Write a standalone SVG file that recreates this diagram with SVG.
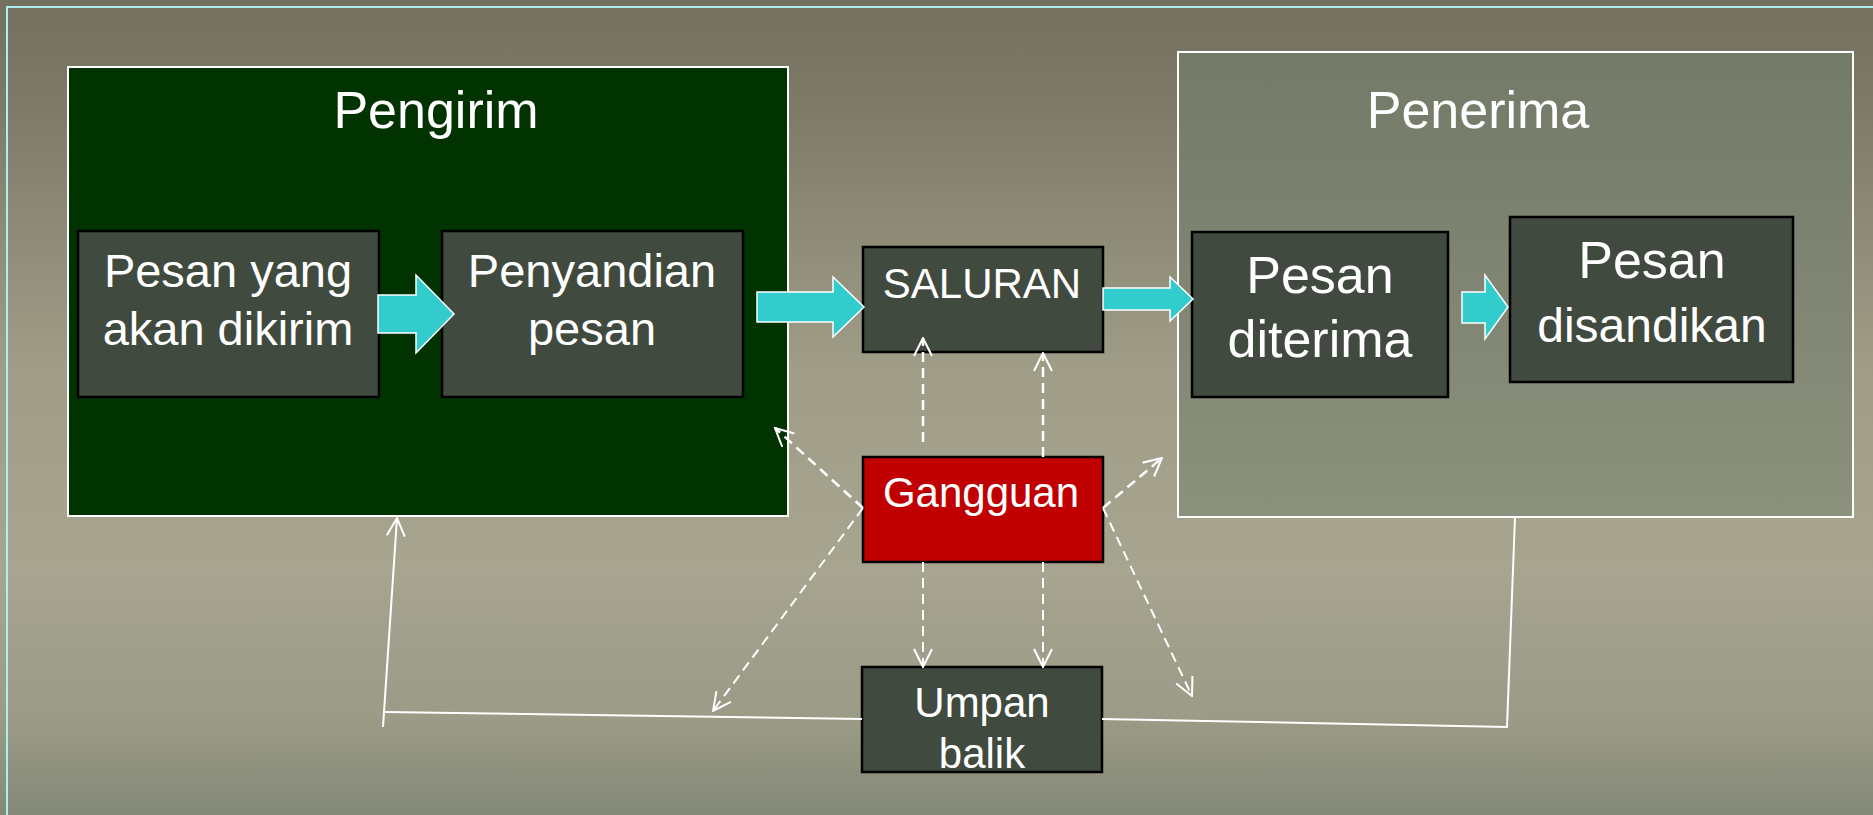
<svg xmlns="http://www.w3.org/2000/svg" width="1873" height="815" viewBox="0 0 1873 815">
<defs>
<linearGradient id="bg" x1="0" y1="0" x2="0" y2="1">
<stop offset="0" stop-color="#74705f"/>
<stop offset="0.12" stop-color="#7c7969"/>
<stop offset="0.45" stop-color="#9f9c87"/>
<stop offset="0.7" stop-color="#a7a490"/>
<stop offset="0.88" stop-color="#9b9b87"/>
<stop offset="1" stop-color="#848977"/>
</linearGradient>
<linearGradient id="recv" x1="0" y1="0" x2="0" y2="1">
<stop offset="0" stop-color="#737a68"/>
<stop offset="1" stop-color="#8c917d"/>
</linearGradient>
<marker id="open" viewBox="0 0 20 20" refX="19" refY="10" markerWidth="20" markerHeight="20" markerUnits="userSpaceOnUse" orient="auto">
<path d="M1,1 L19,10 L1,19" fill="none" stroke="#ffffff" stroke-width="2" stroke-dasharray="none"/>
</marker>
<style>
text{font-family:"Liberation Sans",Arial,Helvetica,sans-serif;fill:#ffffff;text-anchor:middle}
.inner{fill:#414a3e;stroke:#000000;stroke-width:2.5}
.block{fill:#33cccc;stroke:#ffffff;stroke-width:1.5}
.dash{fill:none;stroke:#ffffff;stroke-dasharray:10 6;marker-end:url(#open)}
.solid{fill:none;stroke:#ffffff;stroke-width:2}
</style>
</defs>
<rect x="0" y="0" width="1873" height="815" fill="url(#bg)"/>
<rect x="7" y="7" width="1900" height="900" fill="none" stroke="#aeeeee" stroke-width="2"/>

<g id="pengirim">
<rect x="68" y="67" width="720" height="449" fill="#003300" stroke="#ffffff" stroke-width="2"/>
<text x="436" y="128" font-size="52">Pengirim</text>
</g>
<g id="penerima">
<rect x="1178" y="52" width="675" height="465" fill="url(#recv)" stroke="#ffffff" stroke-width="2"/>
<text x="1478" y="128" font-size="52">Penerima</text>
</g>

<g id="pesan-dikirim">
<rect class="inner" x="78" y="231" width="301" height="166"/>
<text x="228" y="287" font-size="47">Pesan yang</text>
<text x="228" y="345" font-size="47">akan dikirim</text>
</g>
<g id="penyandian">
<rect class="inner" x="442" y="231" width="301" height="166"/>
<text x="592" y="287" font-size="47">Penyandian</text>
<text x="592" y="345" font-size="47">pesan</text>
</g>
<g id="saluran">
<rect class="inner" x="863" y="247" width="240" height="105"/>
<text x="982" y="298" font-size="42">SALURAN</text>
</g>
<g id="pesan-diterima">
<rect class="inner" x="1192" y="232" width="256" height="165"/>
<text x="1320" y="293" font-size="52">Pesan</text>
<text x="1320" y="357" font-size="52">diterima</text>
</g>
<g id="pesan-disandikan">
<rect class="inner" x="1510" y="217" width="283" height="165"/>
<text x="1652" y="278" font-size="52">Pesan</text>
<text x="1652" y="342" font-size="48">disandikan</text>
</g>
<g id="gangguan">
<rect x="863" y="457" width="240" height="105" fill="#c00000" stroke="#000000" stroke-width="2.5"/>
<text x="981" y="507" font-size="42">Gangguan</text>
</g>
<g id="umpan-balik">
<rect class="inner" x="862" y="667" width="240" height="105"/>
<text x="982" y="717" font-size="42">Umpan</text>
<text x="982" y="768" font-size="42">balik</text>
</g>

<g id="connectors">
<polygon class="block" points="378,295 416,295 416,275 454,314 416,353 416,333 378,333"/>
<polygon class="block" points="757,292 833,292 833,277 864,307 833,337 833,322 757,322"/>
<polygon class="block" points="1103,288 1170,288 1170,277 1193,299 1170,321 1170,310 1103,310"/>
<polygon class="block" points="1462,292 1485,292 1485,275 1508,307 1485,339 1485,323 1462,323"/>

<line class="dash" x1="923" y1="442" x2="923" y2="338" stroke-width="2.5"/>
<line class="dash" x1="1043" y1="457" x2="1043" y2="353" stroke-width="2.5"/>
<line class="dash" x1="863" y1="508" x2="775" y2="428" stroke-width="2.5"/>
<line class="dash" x1="1103" y1="508" x2="1162" y2="458" stroke-width="2.5"/>
<line class="dash" x1="863" y1="508" x2="713" y2="711" stroke-width="2"/>
<line class="dash" x1="1103" y1="508" x2="1192" y2="696" stroke-width="2"/>
<line class="dash" x1="923" y1="562" x2="923" y2="667" stroke-width="2"/>
<line class="dash" x1="1043" y1="562" x2="1043" y2="667" stroke-width="2"/>

<line class="solid" x1="862" y1="719" x2="384" y2="712"/>
<line class="solid" x1="383" y1="727" x2="397" y2="518" marker-end="url(#open)"/>
<line class="solid" x1="1102" y1="719" x2="1508" y2="727"/>
<line class="solid" x1="1507" y1="727" x2="1515" y2="517"/>
</g>
</svg>
